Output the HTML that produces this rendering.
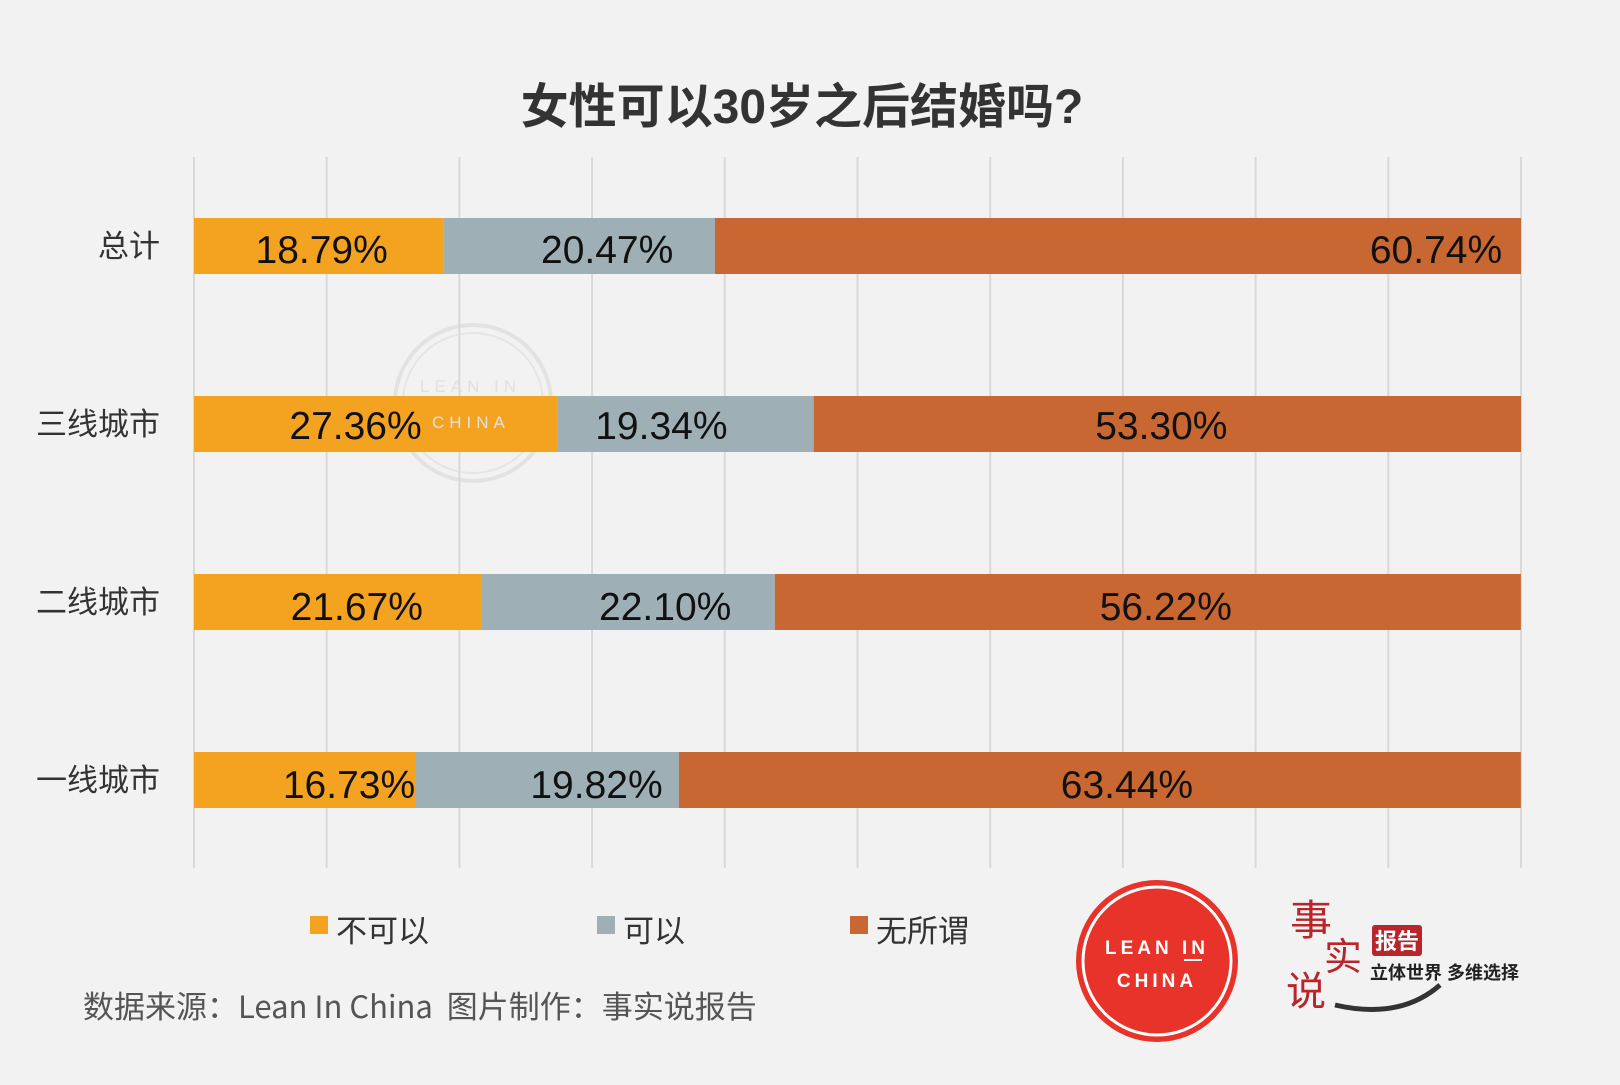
<!DOCTYPE html>
<html><head><meta charset="utf-8">
<style>
html,body{margin:0;padding:0;background:#f2f2f2;}
body{width:1620px;height:1080px;overflow:hidden;position:relative;font-family:"Liberation Sans","Noto Sans CJK SC",sans-serif;}
svg text{font-family:"Liberation Sans","Noto Sans CJK SC",sans-serif;}
</style></head>
<body>
<svg id="chart" width="1620" height="1080" viewBox="0 0 1620 1080" xmlns="http://www.w3.org/2000/svg">
<rect width="1620" height="1080" fill="#f2f2f2"/>
<text x="802" y="123" text-anchor="middle" font-size="48" font-weight="bold" fill="#333">女性可以30岁之后结婚吗?</text>
<g id="grid"></g>
<g opacity="0.55">
<circle cx="473" cy="403" r="78" fill="none" stroke="#d6d6d6" stroke-width="4"/>
<circle cx="473" cy="403" r="70" fill="none" stroke="#dcdcdc" stroke-width="2"/>
</g>
<g id="bars"></g>
<g id="cats"></g>
<g id="vals"></g>
<g font-size="17" fill="#e0e0e0">
<text x="420" y="392" letter-spacing="5">LEAN IN</text>
<text x="432" y="428" letter-spacing="5">CHINA</text>
</g>
<g id="legend"></g>
<text x="83" y="1018" font-size="31" fill="#555" style="font-family:'Noto Sans CJK SC',sans-serif;white-space:pre">数据来源：Lean In China  图片制作：事实说报告</text>
<g>
<circle cx="1157" cy="961" r="81" fill="#e8332a"/>
<circle cx="1157" cy="961" r="74" fill="none" stroke="#fff" stroke-width="3"/>
<text x="1157" y="954" text-anchor="middle" font-size="19" font-weight="bold" fill="#fff" letter-spacing="4">LEAN IN</text>
<rect x="1184" y="959" width="18" height="2" fill="#fff"/>
<text x="1157" y="987" text-anchor="middle" font-size="19" font-weight="bold" fill="#fff" letter-spacing="4">CHINA</text>
</g>
<g>
<text x="1290" y="935" font-size="42" fill="#b8262c" font-family="Noto Serif CJK SC, serif">事</text>
<text x="1324" y="970" font-size="38" fill="#b8262c" font-family="Noto Serif CJK SC, serif">实</text>
<text x="1286" y="1005" font-size="40" fill="#b8262c" font-family="Noto Serif CJK SC, serif">说</text>
<rect x="1372" y="925" width="50" height="31" rx="3" fill="#b8262c"/>
<text x="1397" y="949" text-anchor="middle" font-size="22" font-weight="bold" fill="#fff">报告</text>
<text x="1370" y="979" font-size="18" font-weight="bold" fill="#222" font-family="Noto Serif CJK SC, serif">立体世界 多维选择</text>
<path d="M1335 1005 Q1400 1020 1440 985" stroke="#333" stroke-width="5" fill="none"/>
</g>
</svg>
<script>
const categories = ["总计","三线城市","二线城市","一线城市"];
const seriesNames = ["不可以","可以","无所谓"];
const notOk = [18.79, 27.36, 21.67, 16.73];
const ok = [20.47, 19.34, 22.10, 19.82];
const whatever = [60.74, 53.30, 56.22, 63.44];
const xTicks = [0,10,20,30,40,50,60,70,80,90,100];
const colors = ["#f4a321","#9eafb5","#c86732"];
// label nudges (px) per category row, per series, as in the reference artwork
const labelNudgeX = [[3,28,318],[-20,-24,-6],[19,37,18],[44,49,27]];
const labelNudgeY = [3,1,4,4];
const NS="http://www.w3.org/2000/svg";
const x0=194,x1=1521,yTop=157,yBot=868,bandTop=190,band=178,barH=56;
const xs=v=>x0+(x1-x0)*v/100;
const yc=i=>bandTop+i*band+ (band-barH)/2 - 33;
function mk(tag,attrs,parent){const e=document.createElementNS(NS,tag);for(const k in attrs)e.setAttribute(k,attrs[k]);parent.appendChild(e);return e;}
const grid=document.getElementById('grid');
xTicks.forEach(t=>{
 const l=mk('line',{x1:xs(t),x2:xs(t),y1:yTop,y2:yBot,stroke:'#d9d9d9','stroke-width':2},grid);
 
 
});
const bars=document.getElementById('bars'),cats=document.getElementById('cats'),vals=document.getElementById('vals');
const series=[notOk,ok,whatever];
categories.forEach((c,i)=>{
 const y=yc(i);
 let acc=0;
 series.forEach((s,j)=>{
  const v=s[i];
  const r=mk('rect',{x:xs(acc),y:y,width:xs(acc+v)-xs(acc),height:barH,fill:colors[j]},bars);
  
  
  const t=mk('text',{x:(xs(acc)+xs(acc+v))/2+labelNudgeX[i][j],y:y+barH/2+14+labelNudgeY[i],'text-anchor':'middle','font-size':39,fill:'#111'},vals);
  t.textContent=v.toFixed(2)+'%';
  
  
  acc+=v;
 });
 const ct=mk('text',{x:160,y:y+barH/2+11,'text-anchor':'end','font-size':31,fill:'#333'},cats);
 ct.textContent=c;
 
 
});
const lg=document.getElementById('legend');
const lx=[310,597,850];
seriesNames.forEach((n,j)=>{
 const g=mk('g',{},lg);
 
 
 mk('rect',{x:lx[j],y:916,width:18,height:18,fill:colors[j]},g);
 const t=mk('text',{x:lx[j]+26,y:942,'font-size':31,fill:'#333'},g);
 t.textContent=n;
});
</script>
</body></html>
